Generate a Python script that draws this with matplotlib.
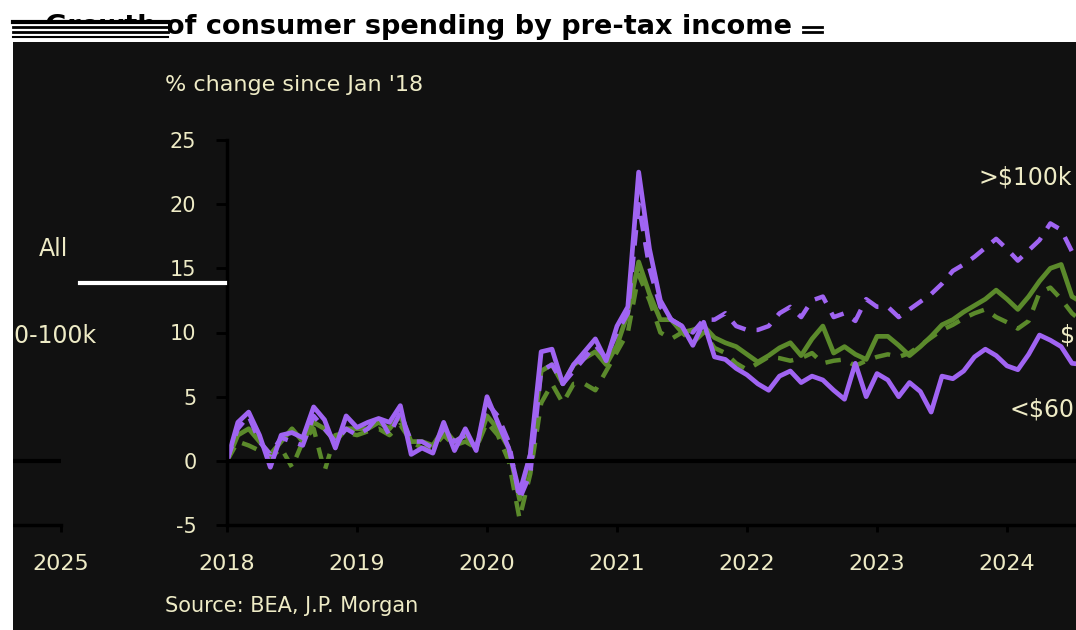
import numpy as np
import matplotlib.pyplot as plt
from matplotlib.patches import Rectangle
from matplotlib.lines import Line2D

plt.rcParams['axes.unicode_minus'] = False

# monthly % change since Jan '18, Jan 2018 .. Aug 2024
lt60 = [0.0, 3.0, 3.8, 2.0, -0.5, 2.0, 2.2, 1.8, 4.2, 3.2, 1.0, 3.5,
        2.6, 3.0, 3.3, 3.0, 4.3, 0.5, 1.0, 0.6, 3.0, 0.8, 2.5, 0.8,
        5.0, 3.0, 1.0, -2.5, 0.5, 8.5, 8.7, 6.0, 7.5, 8.5, 9.5, 7.8,
        10.5, 12.0, 22.5, 16.5, 12.5, 11.0, 10.5, 9.0, 10.8, 8.1, 7.9, 7.2,
        6.7, 6.0, 5.5, 6.6, 7.0, 6.1, 6.6, 6.3, 5.5, 4.8, 7.6, 5.0,
        6.8, 6.3, 5.0, 6.1, 5.4, 3.8, 6.6, 6.4, 7.0, 8.1, 8.7, 8.2,
        7.4, 7.1, 8.3, 9.8, 9.4, 8.9, 7.6, 7.5]
gt100 = [0.0, 2.5, 3.5, 1.5, 0.5, 1.8, 1.5, 1.2, 3.5, 2.5, 1.5, 2.5,
         2.0, 2.5, 3.5, 2.0, 3.8, 1.5, 1.5, 1.0, 2.5, 1.5, 2.0, 1.0,
         4.5, 3.5, 1.5, -3.0, -1.0, 7.0, 7.5, 6.0, 7.0, 8.0, 9.0, 8.0,
         10.0, 11.5, 20.0, 15.0, 12.0, 11.0, 10.5, 10.0, 11.0, 11.0, 11.5, 10.5,
         10.2, 10.2, 10.5, 11.5, 12.0, 11.2, 12.5, 12.8, 11.2, 11.5, 10.9, 12.6,
         12.0, 12.0, 11.2, 11.8, 12.4, 13.0, 13.8, 14.8, 15.3, 15.9, 16.6, 17.3,
         16.5, 15.6, 16.4, 17.2, 18.5, 18.0, 16.3, 15.5]
mid = [0.0, 2.0, 2.5, 1.5, 0.5, 1.5, 2.5, 1.5, 3.0, 2.5, 1.5, 2.5,
       2.5, 2.5, 3.0, 2.5, 3.5, 1.5, 1.5, 1.2, 2.5, 1.5, 2.0, 1.0,
       3.5, 2.5, 1.0, -3.0, 0.5, 7.0, 7.5, 6.0, 7.5, 8.0, 8.5, 7.5,
       9.0, 11.5, 15.5, 13.0, 11.0, 11.0, 10.0, 10.2, 10.5, 9.6, 9.2, 8.9,
       8.3, 7.7, 8.2, 8.8, 9.2, 8.2, 9.5, 10.5, 8.4, 8.9, 8.3, 7.9,
       9.7, 9.7, 9.0, 8.2, 8.9, 9.7, 10.6, 11.0, 11.6, 12.1, 12.6, 13.3,
       12.6, 11.8, 12.8, 14.0, 15.0, 15.3, 12.8, 12.3]
mid_dash = [0.0, 1.5, 1.2, 0.8, 0.2, 1.0, -0.5, 1.5, 2.5, -0.8, 2.0, 2.2,
            2.0, 2.3, 2.5, 2.0, 2.8, 1.5, 1.0, 1.0, 2.0, 1.2, 1.5, 1.0,
            3.0, 2.0, 0.0, -4.5, -1.0, 4.5, 6.0, 4.5, 6.0, 6.0, 5.5, 7.0,
            8.5, 10.0, 14.5, 12.5, 10.0, 9.5, 10.0, 9.2, 10.0, 8.8, 8.4, 7.6,
            7.1, 7.6, 8.1, 8.0, 7.8, 8.0, 8.4, 7.6, 7.8, 7.9, 7.4, 7.8,
            8.1, 8.3, 8.1, 8.4, 9.0, 9.6, 10.2, 10.6, 11.1, 11.5, 11.8, 11.2,
            10.8, 10.3, 10.9, 13.1, 13.5, 12.6, 11.5, 10.8]

years = [2018, 2019, 2020, 2021, 2022, 2023, 2024, 2025]
yticks = [-5, 0, 5, 10, 15, 20, 25]
t = 2018 + np.arange(len(lt60)) / 12

PURPLE = '#a064f2'
GREEN = '#5b8a2b'
TXT = '#eeebc6'
BG = '#111111'
W, H = 1076, 630


def box(l, t_, r, b):
    return [l / W, 1 - b / H, (r - l) / W, (b - t_) / H]


fig = plt.figure(figsize=(W / 100, H / 100), dpi=100, facecolor=BG)
ax = fig.add_axes(box(227, 140, 1137, 525))
# the picture is wrapped: the right end of the chart shows up on the left
ax_wrap = fig.add_axes(box(227 - W, 140, 1137 - W, 525))

for a in (ax, ax_wrap):
    a.set_facecolor('none')
    a.plot(t, mid_dash, color=GREEN, lw=3.2, dashes=(3.5, 2.5))
    a.plot(t, mid, color=GREEN, lw=3.4)
    a.plot(t, gt100, color=PURPLE, lw=3.2, dashes=(3.5, 2.5))
    a.plot(t, lt60, color=PURPLE, lw=3.4)
    a.axhline(0, color='black', lw=3, zorder=5)
    a.set_xlim(2018, 2025)
    a.set_ylim(-5, 25)
    a.set_xticks(years)
    a.set_xticklabels([str(y) for y in years])
    a.set_yticks(yticks)
    for s in ('top', 'right'):
        a.spines[s].set_visible(False)
    for s in ('left', 'bottom'):
        a.spines[s].set_color('black')
        a.spines[s].set_linewidth(2.5)
    a.tick_params(axis='y', colors='black', labelcolor=TXT, length=8,
                  width=2, pad=14, labelsize=15)
    a.tick_params(axis='x', colors='black', labelcolor=TXT, length=5,
                  width=2, pad=16, labelsize=16)
    a.text(2023.78, 22.1, '>$100k', color=TXT, fontsize=17, va='center',
           clip_on=False)
    a.text(2024.02, 4.0, '<$60k', color=TXT, fontsize=17, va='center',
           clip_on=False)
    a.text(2024.41, 9.8, '$60-100k', color=TXT, fontsize=17, va='center',
           clip_on=False)
    a.text(2024.83, 16.5, 'All', color=TXT, fontsize=17, va='center',
           clip_on=False)

fig.add_artist(Line2D([80 / W, 225 / W], [1 - 283 / H] * 2, color='white',
                      lw=3))

# white strips around the dark panel
fig.add_artist(Rectangle((0, 1 - 42 / H), 1, 42 / H, transform=fig.transFigure,
                         facecolor='white', edgecolor='none', zorder=10))
fig.add_artist(Rectangle((0, 0), 13 / W, 1, transform=fig.transFigure,
                         facecolor='white', edgecolor='none', zorder=10))

fig.text(45 / W, 1 - 27 / H, 'Growth of consumer spending by pre-tax income',
         fontsize=19.5, fontweight='bold', color='black', va='center',
         zorder=11)
fig.add_artist(Rectangle((13 / W, 1 - 40 / H), 155 / W, 19 / H,
                         transform=fig.transFigure, facecolor='white',
                         edgecolor='none', zorder=12))
for yy, lw in ((22, 3), (27, 2), (32, 2), (37, 1.5)):
    fig.add_artist(Line2D([13 / W, 168 / W], [1 - yy / H] * 2, color='black',
                          lw=lw, zorder=13))
for yy in (27, 32):
    fig.add_artist(Line2D([803 / W, 822 / W], [1 - yy / H] * 2, color='black',
                          lw=2, zorder=13))

fig.text(165 / W, 1 - 85 / H, "% change since Jan '18", color=TXT, fontsize=16,
         va='center')
fig.text(165 / W, 1 - 606 / H, 'Source: BEA, J.P. Morgan', color=TXT,
         fontsize=15, va='center')

fig.savefig('out.png', dpi=100, facecolor=BG)
